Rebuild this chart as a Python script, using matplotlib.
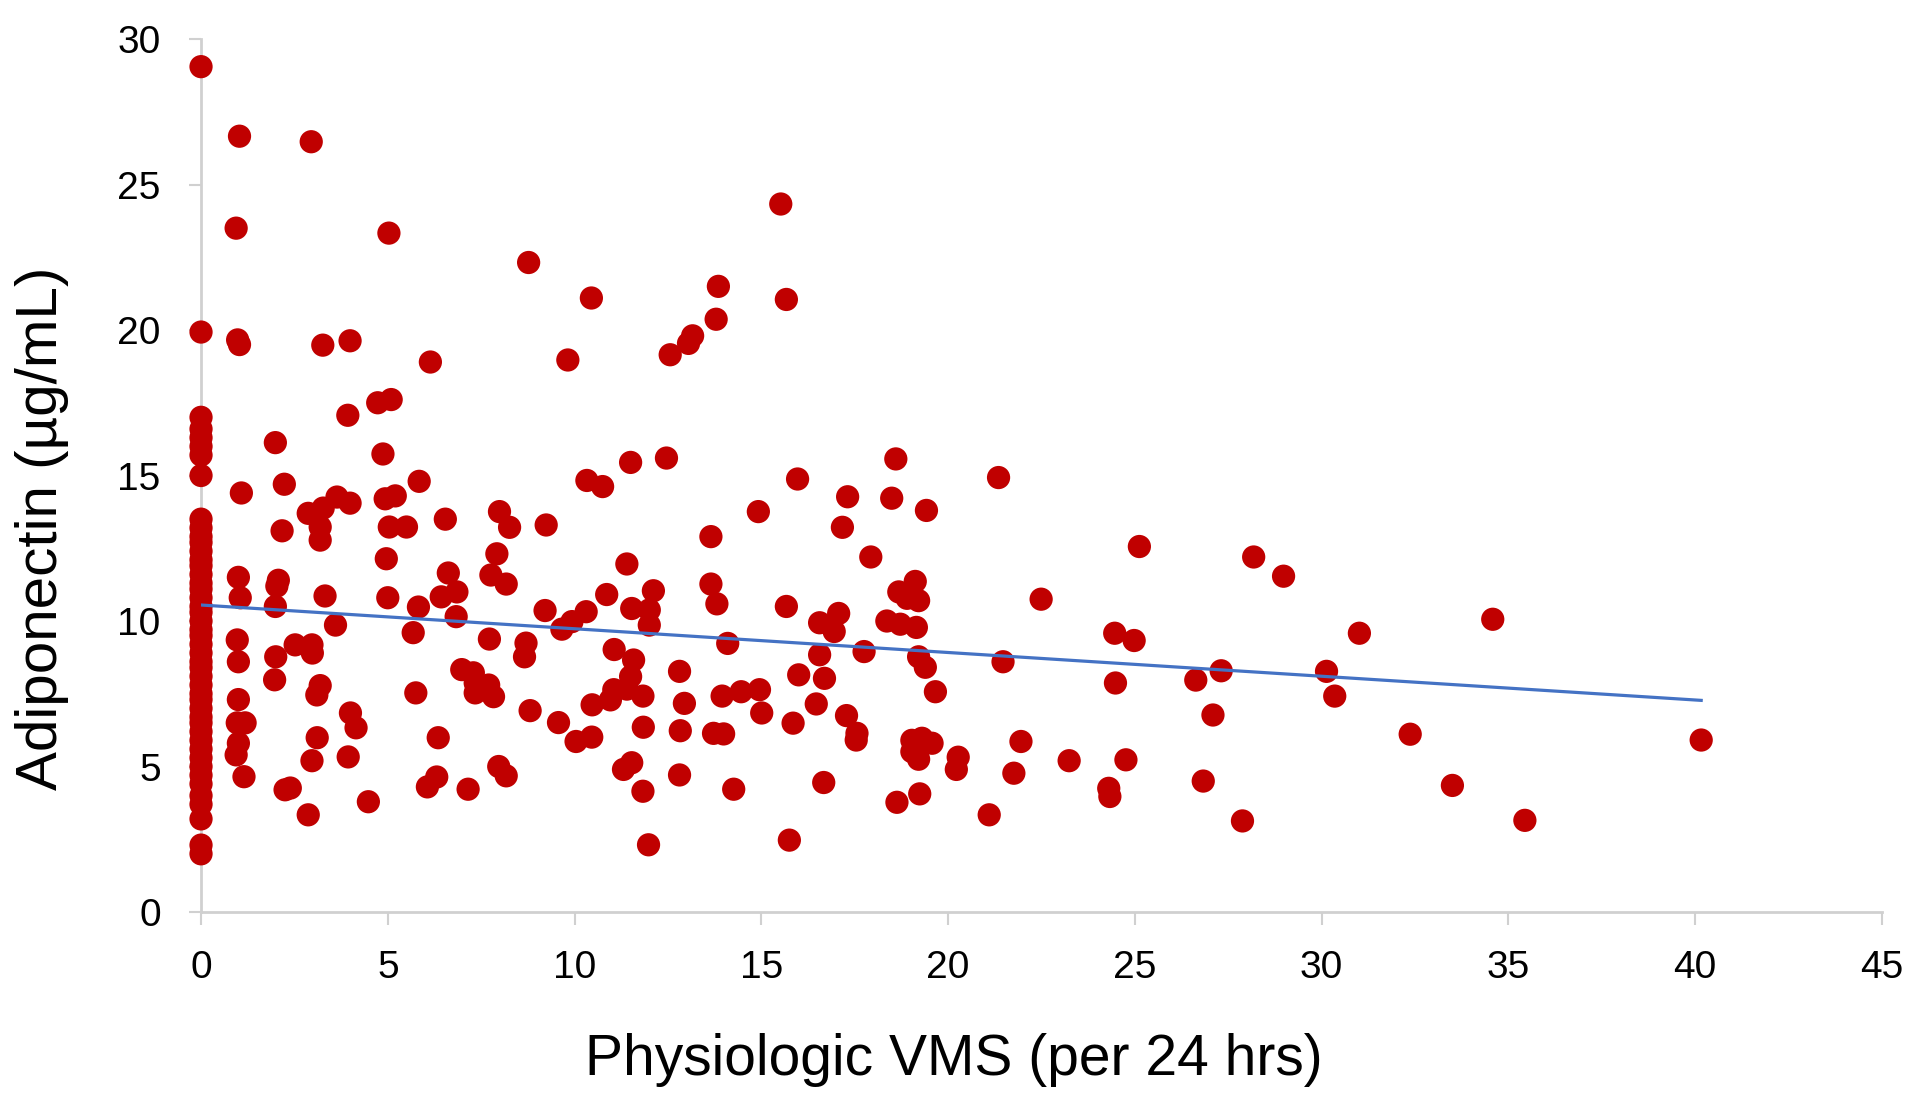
import numpy as np
import matplotlib
matplotlib.use("Agg")
import matplotlib.pyplot as plt

plt.rcParams['font.family'] = ['Liberation Sans', 'DejaVu Sans']

# women with no physiologic VMS (x = 0)
zero_vms_adipo = [29.05, 19.93, 17.0, 16.6, 16.3, 16.0, 15.7, 15.0, 13.5, 13.2, 12.9, 12.7,
                  12.4, 12.1, 11.9, 11.6, 11.3, 11.1, 10.8, 10.5, 10.3, 10.0, 9.7, 9.5, 9.2,
                  8.9, 8.6, 8.4, 8.1, 7.8, 7.5, 7.3, 7.0, 6.7, 6.5, 6.2, 5.9, 5.6, 5.3, 5.0,
                  4.7, 4.4, 4.0, 3.7, 3.2, 2.3, 2.0]

vms = [1.03, 0.94, 0.98, 1.03, 1.08, 1.0, 1.05, 0.97, 1.0, 1.0, 0.97, 1.18, 1.0, 0.94, 1.15,
       1.99, 2.23, 2.17, 2.07, 2.03, 1.99, 2.0, 1.97, 2.25, 2.39, 2.52, 2.97, 2.98, 2.87,
       2.95, 3.26, 3.99, 3.93,
       2.87, 3.27, 3.64, 3.99, 3.19, 3.19, 3.19, 3.1, 3.6, 3.32, 4.0, 4.15, 3.11, 2.97, 3.94, 4.48,
       4.93, 5.2, 5.04, 5.5, 4.96, 5.0, 5.84, 5.82, 5.68, 6.54, 6.62, 6.85, 6.43, 6.83, 5.75,
       6.98, 7.29, 7.34, 7.34, 6.35, 6.31, 6.06, 7.15,
       5.03, 6.14, 4.73, 5.09, 4.87,
       8.77, 10.45, 9.82, 15.52, 15.67, 13.85, 13.79, 13.16, 13.05, 12.56, 11.5, 12.46,
       10.33, 10.75, 7.99, 8.26, 9.24, 7.92, 7.76, 8.17, 9.21, 9.66, 9.93, 10.31, 10.86, 11.4,
       11.53, 12.11, 12.0, 12.0, 7.72, 8.7, 8.66, 7.7, 7.83, 8.81, 9.57, 10.04, 10.46, 11.06,
       11.58, 11.5, 10.47, 10.96, 11.05, 11.4, 11.83, 11.84, 7.97, 8.17, 11.31, 11.53, 11.83,
       11.98, 12.81, 12.94, 12.83, 12.81, 13.65, 13.65, 13.81, 14.1, 14.92, 13.95, 14.46, 14.95,
       15.01, 13.72, 13.99, 14.26, 15.67, 15.97, 16.0, 15.85, 15.75,
       17.31, 18.49, 19.42, 17.17, 21.35, 17.93, 18.6, 19.12, 18.68, 19.21, 18.9, 17.07, 16.56,
       16.95, 18.36, 18.72, 19.15, 16.56, 17.75, 19.21, 19.39, 21.47, 19.66, 16.69, 16.47, 17.28,
       17.56, 17.54, 22.49, 19.03, 19.3, 19.57, 19.03, 19.21, 20.27, 20.22, 21.95, 21.76, 23.24,
       16.67, 18.63, 19.24, 21.1,
       25.12, 24.46, 24.98, 24.48, 24.3, 24.33, 24.76, 28.18, 28.98, 26.63, 27.31, 27.09, 26.83,
       27.88, 31.01, 30.13, 30.35, 32.37, 34.58, 33.5, 35.44, 40.16]

adipo = [26.66, 23.5, 19.66, 19.5, 14.4, 11.5, 10.8, 9.35, 8.6, 7.3, 6.5, 6.5, 5.8, 5.4, 4.65,
         16.13, 14.7, 13.1, 11.4, 11.2, 10.5, 8.77, 7.98, 4.2, 4.26, 9.18, 9.18, 8.9, 3.34,
         26.47, 19.48, 19.63, 17.07,
         13.7, 13.88, 14.26, 14.05, 13.23, 12.78, 7.78, 7.46, 9.86, 10.86, 6.84, 6.33, 5.99, 5.2, 5.33, 3.79,
         14.2, 14.3, 13.23, 13.23, 12.14, 10.8, 14.8, 10.48, 9.6, 13.5, 11.65, 11.0, 10.83, 10.15, 7.53,
         8.33, 8.22, 7.87, 7.53, 5.99, 4.64, 4.3, 4.22,
         23.33, 18.9, 17.5, 17.61, 15.74,
         22.32, 21.1, 18.97, 24.33, 21.05, 21.5, 20.37, 19.8, 19.54, 19.15, 15.45, 15.6,
         14.83, 14.62, 13.76, 13.22, 13.3, 12.31, 11.58, 11.27, 10.36, 9.72, 9.98, 10.32, 10.91, 11.96,
         10.43, 11.04, 10.38, 9.86, 9.38, 9.24, 8.77, 7.8, 7.4, 6.92, 6.51, 5.86, 6.01, 9.02,
         8.66, 8.09, 7.12, 7.29, 7.64, 7.66, 7.42, 6.35, 5.0, 4.68, 4.9, 5.13, 4.15,
         2.31, 8.27, 7.17, 6.23, 4.71, 12.9, 11.27, 10.59, 9.23, 13.76, 7.42, 7.57, 7.64,
         6.84, 6.14, 6.12, 4.22, 10.5, 14.88, 8.15, 6.49, 2.47,
         14.27, 14.22, 13.8, 13.22, 14.93, 12.2, 15.57, 11.36, 11.0, 10.7, 10.78, 10.26, 9.94,
         9.64, 10.0, 9.89, 9.78, 8.84, 8.95, 8.77, 8.41, 8.6, 7.57, 8.03, 7.15, 6.75,
         6.14, 5.91, 10.75, 5.9, 5.97, 5.8, 5.51, 5.25, 5.32, 4.9, 5.86, 4.77, 5.2,
         4.45, 3.77, 4.06, 3.34,
         12.56, 9.58, 9.33, 7.87, 4.25, 3.97, 5.23, 12.2, 11.54, 7.97, 8.29, 6.77, 4.5,
         3.13, 9.58, 8.27, 7.42, 6.11, 10.06, 4.35, 3.15, 5.91]

# linear trendline
trend_intercept = 10.55
trend_slope = -0.0816

x_all = np.array([0.0] * len(zero_vms_adipo) + vms)
y_all = np.array(zero_vms_adipo + adipo)

fig = plt.figure(figsize=(19.2, 11.02), dpi=100)
ax = fig.add_axes([0.1047, 0.1724, 0.8755, 0.7922])

ax.scatter(x_all, y_all, s=280, color="#C00000", edgecolors="none", zorder=3, clip_on=False)

tx = np.array([0, x_all.max()])
ax.plot(tx, trend_intercept + trend_slope * tx, color="#4472C4", lw=2.3, zorder=4)

ax.set_xlim(0, 45)
ax.set_ylim(0, 30)
ax.set_xticks(np.arange(0, 46, 5))
ax.set_yticks(np.arange(0, 31, 5))

for s in ["top", "right"]:
    ax.spines[s].set_visible(False)
for s in ["left", "bottom"]:
    ax.spines[s].set_color("#D0D0D0")
    ax.spines[s].set_linewidth(2)

ax.tick_params(axis="both", direction="out", length=9, width=1.5, color="#D0D0D0",
               labelsize=28, labelcolor="black")
ax.tick_params(axis="y", pad=20)
ax.tick_params(axis="x", pad=18)

ax.set_xlabel("Physiologic VMS (per 24 hrs)", fontsize=41)
ax.set_ylabel("Adiponectin (µg/mL)", fontsize=42)
ax.xaxis.label.set_va("center")
ax.yaxis.label.set_va("center")
ax.xaxis.set_label_coords(0.448, -0.1695)
ax.yaxis.set_label_coords(-0.0946, 0.439)

fig.savefig("out.png", dpi=100)
